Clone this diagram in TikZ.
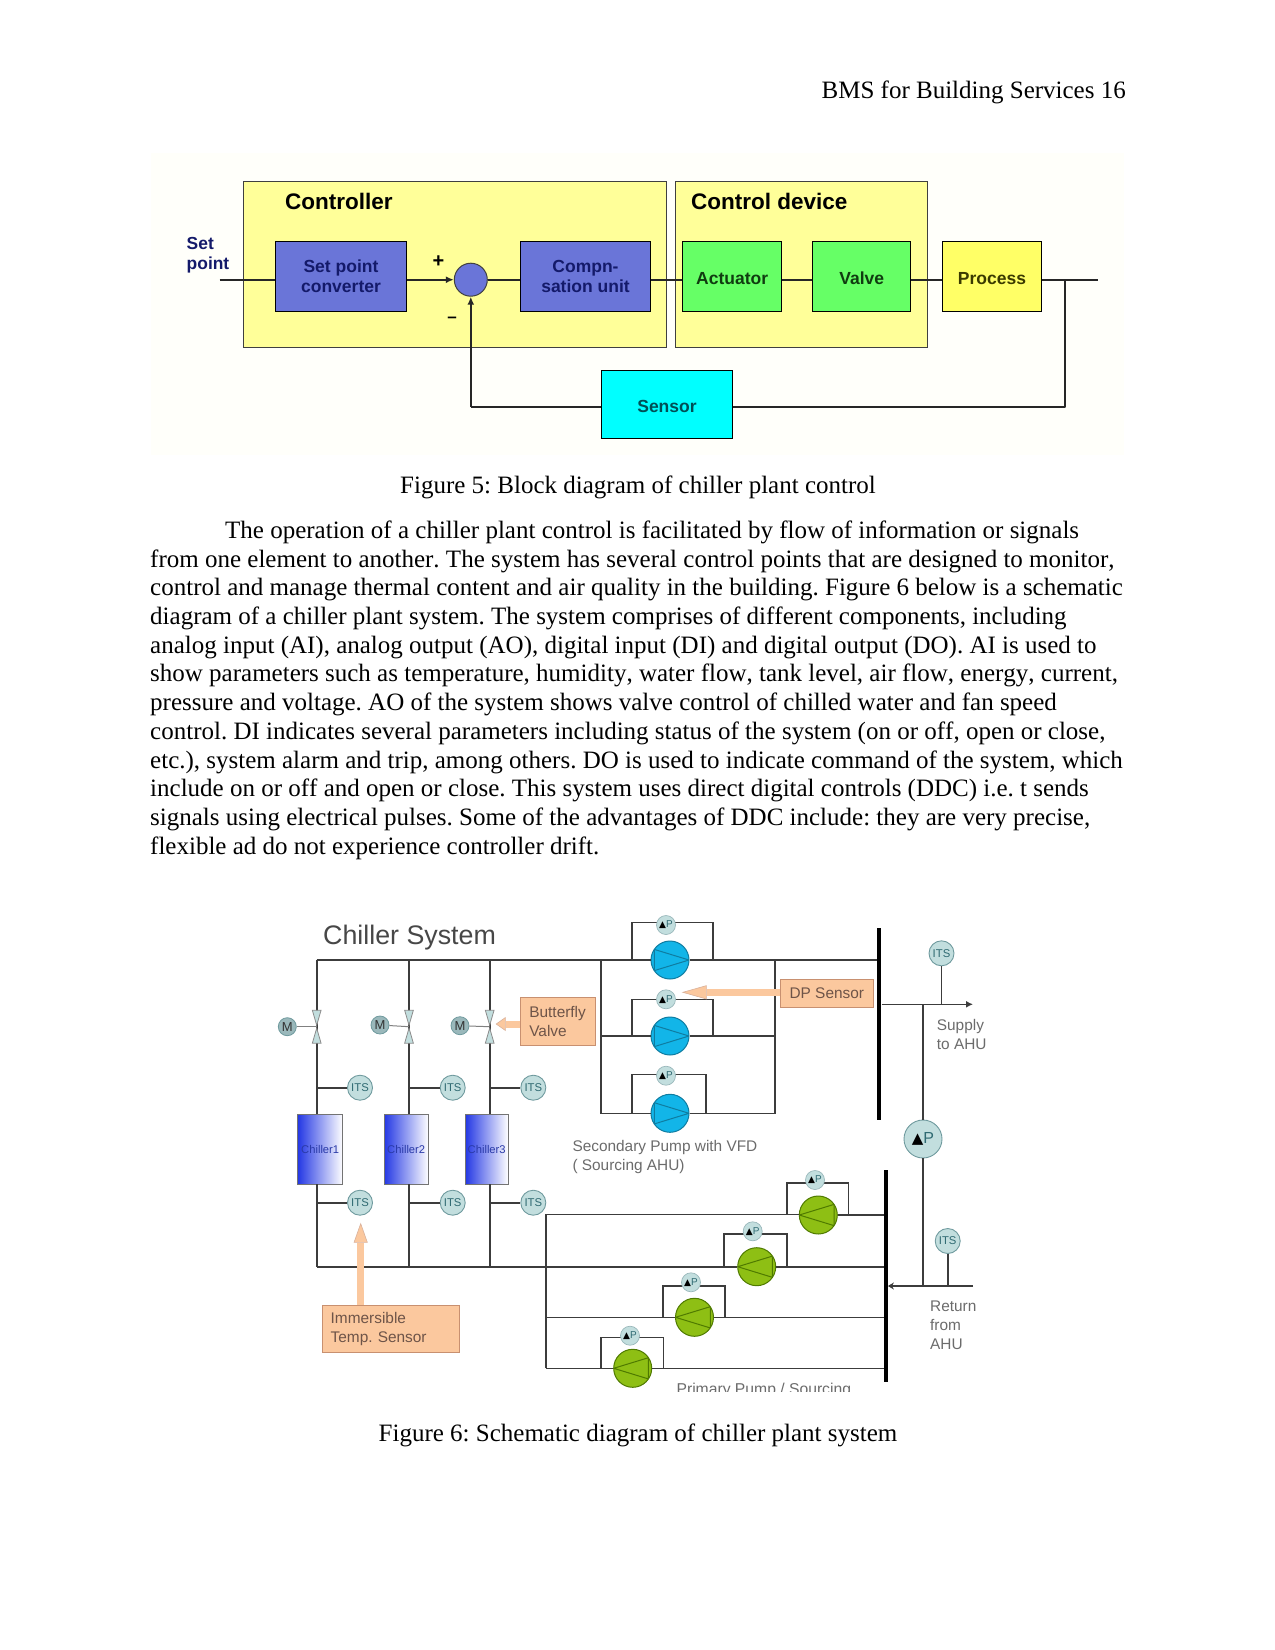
\documentclass[tikz,border=0pt]{standalone}
\usepackage{fontspec}
\setmainfont{Liberation Serif}[Kerning=Off]
\setsansfont{Liberation Sans}
\newfontfamily\symfont{DejaVu Sans}
\usepackage{tikz}
\usetikzlibrary{arrows.meta,positioning,shapes.geometric}
\usepackage{xcolor}
\definecolor{panelyellow}{HTML}{FFFF99}
\definecolor{blockblue}{HTML}{6A75D8}
\definecolor{blockgreen}{HTML}{66FF66}
\definecolor{procyellow}{HTML}{FFFF66}
\definecolor{sensorcyan}{HTML}{00FFFF}
\definecolor{blocktext}{HTML}{141A6A}
\definecolor{greentext}{HTML}{103C10}
\definecolor{proctext}{HTML}{3A3A00}
\definecolor{sensortext}{HTML}{004F55}
\definecolor{calloutfill}{HTML}{FBC89E}
\definecolor{calloutline}{HTML}{C89070}
\definecolor{callouttext}{HTML}{6E5448}
\definecolor{pipegray}{HTML}{3C3C3C}
\definecolor{gaugefill}{HTML}{C2DEDE}
\definecolor{gaugeline}{HTML}{6F9A9E}
\definecolor{gaugetext}{HTML}{2F6A72}
\definecolor{chillerblue}{HTML}{2438E4}
\definecolor{chillertext}{HTML}{2A3AA8}
\definecolor{pumpblue}{HTML}{12B5E8}
\definecolor{pumpblueline}{HTML}{0F7CA0}
\definecolor{pumpgreen}{HTML}{8EBF14}
\definecolor{pumpgreenline}{HTML}{4F7A00}
\tikzset{
  page/.style={inner sep=0pt,text=black,font=\fontsize{25}{28.72}\selectfont\frenchspacing},
  panel/.style={draw=black!75,fill=panelyellow,line width=0.9pt,inner sep=0pt},
  ttl/.style={inner sep=0pt,anchor=west,font=\fontsize{22.5}{26}\sffamily\bfseries\selectfont},
  block/.style={draw=black,line width=1pt,inner sep=0pt,align=center,text=blocktext,execute at begin node={\rule{0pt}{17pt}},
    font=\fontsize{17.5}{20}\sffamily\bfseries\selectfont},
  sig/.style={draw=black!85,line width=2.1pt},
  sigarr/.style={sig,-{Latex[length=8pt,width=7pt]}},
  pipe/.style={draw=pipegray,line width=1.6pt},
  stem/.style={draw=black!50,line width=1pt},
  bus/.style={fill=black,inner sep=0pt,minimum width=4pt},
  chiller/.style={draw=black!55,line width=0.8pt,left color=chillerblue,right color=white,inner sep=0pt,minimum height=70pt,
    font=\fontsize{11.2}{13}\sffamily\selectfont,text=chillertext},
  vtri/.style={draw=black!45,fill=gaugefill,isosceles triangle,isosceles triangle apex angle=32,isosceles triangle stretches,
    minimum height=15pt,minimum width=8.7pt,inner sep=0pt,anchor=apex,line width=0.8pt},
  motor/.style={circle,draw=gaugeline,fill=gaugeline!70,line width=0.8pt,minimum size=18pt,inner sep=0pt,text=black!80,
    font=\fontsize{13}{15}\sffamily\selectfont},
  its/.style={circle,draw=gaugeline,fill=gaugefill,line width=0.9pt,minimum size=25pt,inner sep=0pt,text=gaugetext,
    font=\fontsize{11.3}{13}\sffamily\selectfont},
  dp/.style={circle,draw=gaugeline!70,fill=gaugefill,line width=0.7pt,minimum size=19pt,inner sep=0pt,text=gaugetext,
    font=\fontsize{10}{12}\sffamily\selectfont},
  bigdp/.style={dp,draw=gaugeline,line width=0.9pt,minimum size=38pt,font=\fontsize{16}{18}\sffamily\selectfont},
  bluepump/.style={circle,draw=pumpblueline,fill=pumpblue,line width=1pt,minimum size=38pt,inner sep=0pt,
    path picture={\draw[pumpblueline,line width=1pt]
      ([shift={(0:19pt)}]path picture bounding box.center) -- ([shift={(146:19pt)}]path picture bounding box.center)
      -- ([shift={(214:19pt)}]path picture bounding box.center) -- cycle;}},
  greenpump/.style={circle,draw=pumpgreenline,fill=pumpgreen,line width=1pt,minimum size=38pt,inner sep=0pt,
    path picture={\draw[pumpgreenline,line width=1pt]
      ([shift={(180:19pt)}]path picture bounding box.center) -- ([shift={(34:19pt)}]path picture bounding box.center)
      -- ([shift={(-34:19pt)}]path picture bounding box.center) -- cycle;}},
  callout/.style={draw=calloutline,fill=calloutfill,line width=0.9pt,inner sep=0pt,inner xsep=8pt,align=left,text=callouttext,
    font=\fontsize{15.4}{19}\sffamily\selectfont\frenchspacing},
  calloutarr/.style={draw=calloutfill,line width=7pt,-{Triangle[length=#1,width=14pt,color=calloutline!70,fill=calloutfill,line width=0.6pt]}},
  lbl/.style={inner sep=0pt,align=left,text=black!58,font=\fontsize{15.4}{19}\sffamily\selectfont}
}
\newcommand{\dpmark}{{\symfont\color{black}\fontsize{9}{11}\selectfont ▲}P}

\begin{document}
\begin{tikzpicture}[x=1pt,y=-1pt]
\useasboundingbox (0,0) rectangle (1275,1650);
% page text
\node[page,anchor=base east] (head) at (1126,98) {BMS for Building Services 16};
\node[page,anchor=base] (cap5) at (638,493) {Figure 5: Block diagram of chiller plant control};
\node[page,anchor=north west,align=left] (para) at (150,520.5) {\hspace*{75pt}The operation of a chiller plant control is facilitated by flow of information or signals\\
from one element to another. The system has several control points that are designed to monitor,\\
control and manage thermal content and air quality in the building. Figure 6 below is a schematic\\
diagram of a chiller plant system. The system comprises of different components, including\\
analog input (AI), analog output (AO), digital input (DI) and digital output (DO). AI is used to\\
show parameters such as temperature, humidity, water flow, tank level, air flow, energy, current,\\
pressure and voltage. AO of the system shows valve control of chilled water and fan speed\\
control. DI indicates several parameters including status of the system (on or off, open or close,\\
etc.), system alarm and trip, among others. DO is used to indicate command of the system, which\\
include on or off and open or close. This system uses direct digital controls (DDC) i.e. t sends\\
signals using electrical pulses. Some of the advantages of DDC include: they are very precise,\\
flexible ad do not experience controller drift.};
\node[page,anchor=base] (cap6) at (638,1441) {Figure 6: Schematic diagram of chiller plant system};

% block diagram
\node[fill=yellow!2,inner sep=0pt,minimum width=973pt,minimum height=302pt] (plate) at (637,304) {};
\node[panel,minimum width=423pt,minimum height=165.3pt] (ctrl) at (454.5,264.4) {};
\node[panel,minimum width=252pt,minimum height=165.3pt] (dev) at (801,264.4) {};
\node[ttl] (ctrltxt) at (285,201) {Controller};
\node[ttl] (devtxt) at (691,201) {Control device};
\node[block,fill=blockblue,minimum width=130.5pt,minimum height=70pt] (spc) at (341,276) {Set point\\converter};
\node[block,fill=blockblue,minimum width=130.8pt,minimum height=70pt] (comp) at (585.5,276) {Compn-\\sation unit};
\node[block,fill=blockgreen,minimum width=98.5pt,minimum height=70pt,text=greentext] (act) at (732.2,276) {Actuator};
\node[block,fill=blockgreen,minimum width=98pt,minimum height=70pt,text=greentext] (valve) at (861.7,276) {Valve};
\node[block,fill=procyellow,minimum width=99pt,minimum height=70pt,text=proctext] (proc) at (992,276) {Process};
\node[block,fill=sensorcyan,minimum width=130.5pt,minimum height=68pt,text=sensortext] (sensor) at (667,404) {Sensor};
\node[circle,draw=black!75,fill=blockblue,line width=1pt,minimum size=33pt,inner sep=0pt] (sum) at (470.8,279.7) {};
\node[inner sep=0pt,align=left,font=\fontsize{17.4}{20.5}\sffamily\bfseries\selectfont,text=blocktext] (setpt) at (208,255) {Set\\point};
\node[inner sep=0pt,font=\fontsize{20}{22}\sffamily\bfseries\selectfont] (plus) at (438.5,262) {+};
\node[inner sep=0pt,font=\fontsize{17}{19}\sffamily\bfseries\selectfont] (minus) at (452,320) {--};
\coordinate (sp) at (219.5,279.7);
\coordinate (tap) at (1065,279.7);
\coordinate (out) at (1098,279.7);
\coordinate (fb) at (470.8,407);
\draw[sig] (sp) -- (spc.west |- sp);
\draw[sigarr] (spc.east |- sum) -- (sum);
\draw[sig] (sum) -- (comp.west |- sum);
\draw[sig] (comp.east |- sum) -- (act.west |- sum);
\draw[sig] (act.east |- sum) -- (valve.west |- sum);
\draw[sig] (valve.east |- sum) -- (proc.west |- sum);
\draw[sig] (proc.east |- sum) -- (out);
\draw[sig,line join=round] (tap) |- (sensor.east |- fb);
\draw[sig,line join=round] (sensor.west |- fb) -- (fb);
\draw[sigarr] (fb) -- (sum);

% chiller schematic
\node[inner sep=0pt,anchor=west,text=black!72,font=\fontsize{26.8}{30}\sffamily\selectfont] (sysname) at (323,938) {Chiller System};
\node[bus,minimum height=192pt] (busa) at (879.3,1024) {};
\node[bus,minimum height=212pt] (busb) at (885.7,1276) {};
\node[chiller,minimum width=45pt] (ch1) at (320.2,1149) {Chiller1};
\node[chiller,minimum width=44.3pt] (ch2) at (406.2,1149) {Chiller2};
\node[chiller,minimum width=42.7pt] (ch3) at (486.7,1149) {Chiller3};
\node[motor] (m1) at (287.3,1026.7) {M};
\node[motor] (m2) at (380,1025) {M};
\node[motor] (m3) at (460,1025.7) {M};
\node[its] (ia1) at (360,1087.7) {ITS};
\node[its] (ia2) at (452.7,1087.7) {ITS};
\node[its] (ia3) at (533.3,1087.7) {ITS};
\node[its] (ib1) at (360,1202.7) {ITS};
\node[its] (ib2) at (452.7,1202.7) {ITS};
\node[its] (ib3) at (533.3,1202.7) {ITS};
\node[its] (isup) at (941.5,953.3) {ITS};
\node[its] (iret) at (947.7,1241) {ITS};
\node[bluepump] (p1) at (670,960) {};
\node[bluepump] (p2) at (670,1036) {};
\node[bluepump] (p3) at (670,1113.3) {};
\node[greenpump] (g1) at (818.3,1215) {};
\node[greenpump] (g2) at (756.7,1266.7) {};
\node[greenpump] (g3) at (694.5,1317.3) {};
\node[greenpump] (g4) at (632.7,1368.3) {};
\node[bigdp] (pmain) at (923,1139) {{\symfont\color{black}\fontsize{15}{17}\selectfont ▲}P};
\node[callout,minimum width=74.7pt,minimum height=48pt] (bfly) at (557.6,1021.7) {Butterfly\\Valve};
\node[callout,minimum width=92.3pt,minimum height=28.3pt] (dpsens) at (826.8,993.2) {DP Sensor};
\node[callout,text width=120.6pt,minimum height=47.3pt] (imm) at (391,1328.6) {Immersible\\Temp. Sensor};
\node[lbl,anchor=north west] (seclbl) at (572.3,1140) {Secondary Pump with VFD\\( Sourcing AHU)};
\node[lbl,anchor=north west] (suplbl) at (936.7,1019) {Supply\\to AHU};
\node[lbl,anchor=north west] (retlbl) at (930,1300.5) {Return\\from\\AHU};
\begin{scope}
\clip (660,1375) rectangle (860,1391);
\node[lbl,anchor=base,font=\fontsize{15.7}{19}\sffamily\selectfont] (primlbl) at (763.8,1394) {Primary Pump / Sourcing};
\end{scope}
% pipe junctions
\coordinate (h1) at (316.7,960);
\coordinate (h2) at (409,960);
\coordinate (h3) at (489.7,960);
\coordinate (r1) at (316.7,1266.7);
\coordinate (r2) at (409,1266.7);
\coordinate (r3) at (489.7,1266.7);
\coordinate (sl) at (600.7,960);
\coordinate (sr) at (775,960);
\coordinate (sup) at (923,1004.3);
\coordinate (supits) at (941.5,1004.3);
\coordinate (suptip) at (973,1004.3);
\coordinate (ret) at (923,1286);
\coordinate (retits) at (947.7,1286);
\coordinate (retend) at (973,1286);
\coordinate (pl) at (545.7,1214.3);
\coordinate (pb) at (545.7,1368.3);
% chiller risers
\draw[pipe] (h1) -- (ch1.north -| h1);
\draw[pipe] (h2) -- (ch2.north -| h2);
\draw[pipe] (h3) -- (ch3.north -| h3);
\draw[pipe] (ch1.south -| r1) -- (r1);
\draw[pipe] (ch2.south -| r2) -- (r2);
\draw[pipe] (ch3.south -| r3) -- (r3);
\draw[pipe] (ia1) -- (ia1 -| h1);
\draw[pipe] (ia2) -- (ia2 -| h2);
\draw[pipe] (ia3) -- (ia3 -| h3);
\draw[pipe] (ib1) -- (ib1 -| h1);
\draw[pipe] (ib2) -- (ib2 -| h2);
\draw[pipe] (ib3) -- (ib3 -| h3);
% headers
\draw[pipe] (h1) -- (p1);
\draw[pipe] (p1) -- (p1 -| busa.west);
\draw[pipe] (r1) -- (g2);
\draw[pipe] (g2) -- (g2 -| busb.west);
\draw[pipe] (sl) -- (sl |- p3) -- (p3);
\draw[pipe] (p3) -- (p3 -| sr) -- (sr);
\draw[pipe] (p2 -| sl) -- (p2);
\draw[pipe] (p2) -- (p2 -| sr);
% primary bank
\draw[pipe] (pl) -- (pb);
\draw[pipe] (pl) -- (pl -| g1.west);
\draw[pipe] (g1) -- (g1 -| busb.west);
\draw[pipe] (pb |- g3) -- (g3);
\draw[pipe] (g3) -- (g3 -| busb.west);
\draw[pipe] (pb) -- (g4);
\draw[pipe] (g4) -- (g4 -| busb.west);
% supply and return
\draw[pipe,-{Latex[length=7pt,width=7pt]}] (busa.east |- sup) -- (suptip);
\draw[pipe] (isup) -- (supits);
\draw[pipe] (sup) -- (pmain);
\draw[pipe] (pmain) -- (ret);
\draw[pipe,-{Stealth[length=6pt,width=7pt]}] (retend) -- (busb.east |- ret);
\draw[pipe] (iret) -- (retits);
% pump bypass loops
\coordinate (l1) at (632,960);
\coordinate (k1) at (712.7,960);
\coordinate (l2) at (632,1036);
\coordinate (k2) at (712.7,1036);
\coordinate (l3) at (632,1113.3);
\coordinate (k3) at (706,1113.3);
\coordinate (l4) at (786.7,1214.3);
\coordinate (k4) at (848.3,1214.3);
\coordinate (l5) at (724,1266.7);
\coordinate (k5) at (786.7,1266.7);
\coordinate (l6) at (662.7,1317.3);
\coordinate (k6) at (725,1317.3);
\coordinate (l7) at (600.7,1368.3);
\coordinate (k7) at (663.3,1368.3);
\draw[pipe] (l1) -- ++(0,-37.7) -| (k1);
\draw[pipe] (l2) -- ++(0,-36.7) -| (k2);
\draw[pipe] (l3) -- ++(0,-39) -| (k3);
\draw[pipe] (l4) -- ++(0,-31.6) -| (k4);
\draw[pipe] (l5) -- ++(0,-32.7) -| (k5);
\draw[pipe] (l6) -- ++(0,-31.3) -| (k6);
\draw[pipe] (l7) -- ++(0,-31) -| (k7);
\node[dp] (d1) at (666,925) {\dpmark};
\node[dp] (d2) at (666,999.3) {\dpmark};
\node[dp] (d3) at (666,1075.7) {\dpmark};
\node[dp] (d4) at (815,1180) {\dpmark};
\node[dp] (d5) at (752.7,1231.3) {\dpmark};
\node[dp] (d6) at (691,1282.3) {\dpmark};
\node[dp] (d7) at (630,1335.7) {\dpmark};
% butterfly valves
\node[vtri,shape border rotate=-90] (vt1) at (316.7,1026.7) {};
\node[vtri,shape border rotate=90] (vb1) at (316.7,1026.7) {};
\node[vtri,shape border rotate=-90] (vt2) at (409,1026.7) {};
\node[vtri,shape border rotate=90] (vb2) at (409,1026.7) {};
\node[vtri,shape border rotate=-90] (vt3) at (489.7,1026.7) {};
\node[vtri,shape border rotate=90] (vb3) at (489.7,1026.7) {};
\draw[stem] (m1) -- (vt1.apex);
\draw[stem] (m2) -- (vt2.apex);
\draw[stem] (m3) -- (vt3.apex);
% callout arrows
\coordinate (bftip) at (495.7,1024);
\coordinate (dptip) at (681.7,992.3);
\coordinate (immtip) at (360.7,1222.7);
\draw[calloutarr=10pt] (bfly.west |- bftip) -- (bftip);
\draw[calloutarr=25pt] (dpsens.west |- dptip) -- (dptip);
\draw[calloutarr=20pt] (imm.north -| immtip) -- (immtip);
\end{tikzpicture}
\end{document}
